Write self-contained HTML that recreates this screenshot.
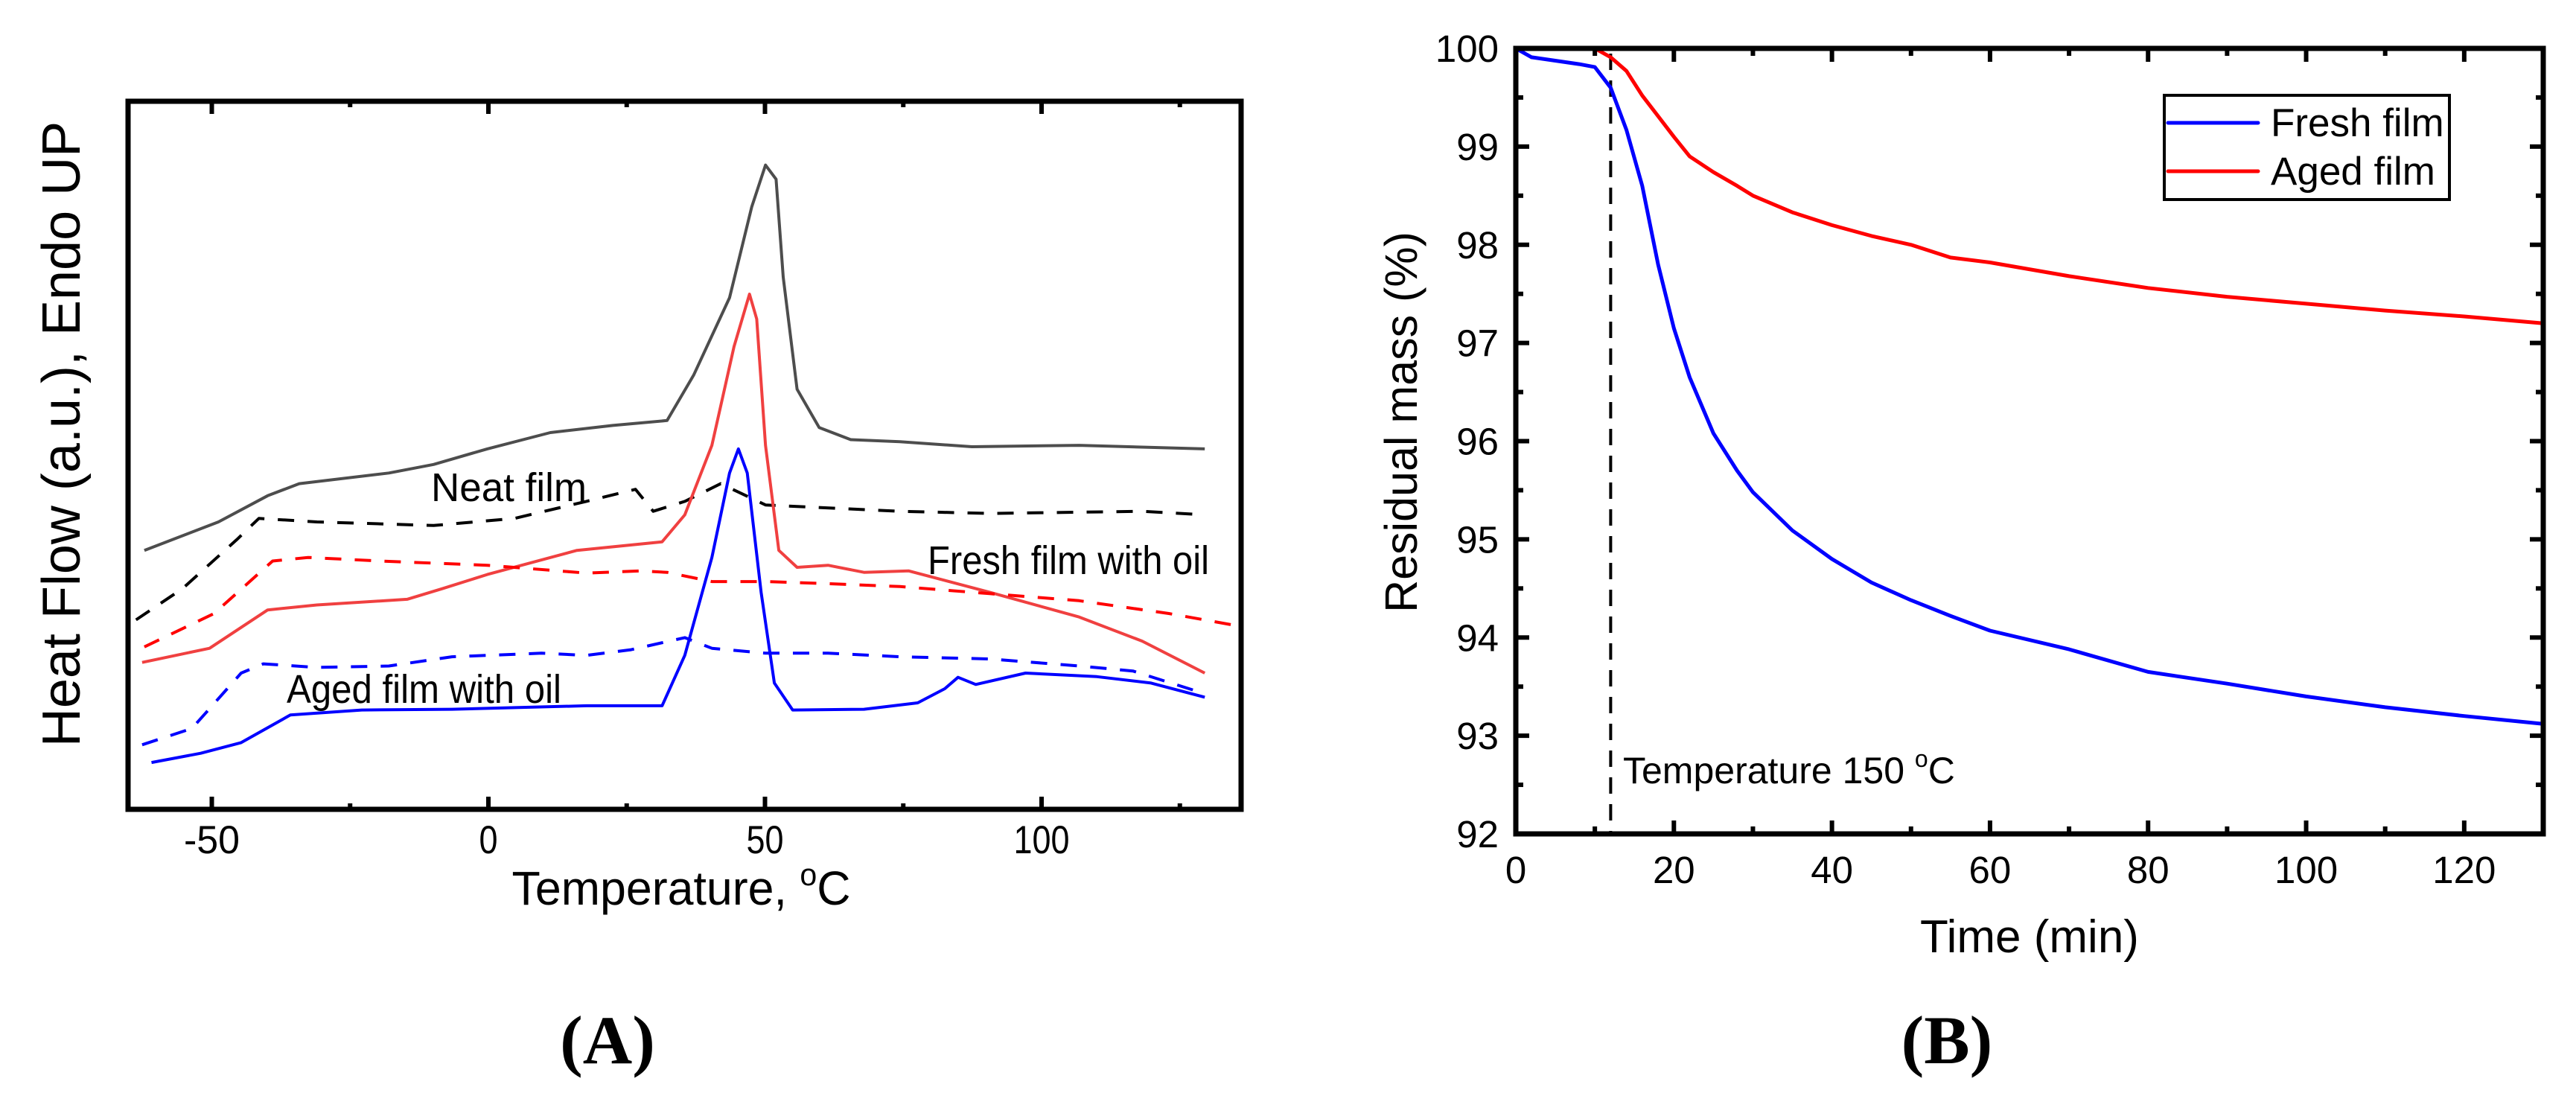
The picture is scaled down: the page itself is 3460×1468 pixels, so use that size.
<!DOCTYPE html>
<html><head><meta charset="utf-8"><style>html,body{margin:0;padding:0;background:#fff}svg{display:block}text{font-family:"Liberation Sans",Arial,sans-serif}</style></head>
<body>
<svg id="fig" width="3460" height="1468" viewBox="0 0 3460 1468" xmlns="http://www.w3.org/2000/svg">
<g id="panelA"></g>
<g id="panelB"></g>
<text x="816" y="1428" text-anchor="middle" style="font-family:'Liberation Serif',serif" font-size="92" font-weight="bold">(A)</text>
<text x="2615" y="1428" text-anchor="middle" style="font-family:'Liberation Serif',serif" font-size="92" font-weight="bold">(B)</text>
</svg>
<script>
// ---------- Panel A data ----------
const aXTicks = [-50, 0, 50, 100];
const aXTickLabels = ["-50", "0", "50", "100"];
const neatSolidT = [-62.2,-48.8,-39.9,-34.2,-18,-9.9,-0.2,11.2,22.5,32.3,37.1,43.6,47.6,50.1,52,53.3,55.8,59.8,65.5,74.4,87.4,106.8,129.5];
const neatSolidV = [36.5,40.5,44.2,45.9,47.4,48.6,50.8,53.1,54.1,54.8,61.2,72.1,84.9,90.8,88.8,75,59.2,53.8,52.1,51.8,51.1,51.3,50.8];
const neatDashT = [-63.7,-55.3,-45.5,-41.5,-31,-9.9,4.7,17.7,26.6,29.8,35.5,42,50.1,66.3,74.4,90.6,118.2,129.5];
const neatDashV = [26.7,31.1,38,41,40.5,40,41,43.4,45.1,42,43.4,45.9,42.9,42.3,42,41.7,42,41.5];
const freshSolidT = [-62.6,-50.4,-39.9,-31,-14.7,-8.3,-0.2,16,31.4,35.5,40.4,44.4,47.2,48.5,50.1,52.5,55.8,61.4,67.9,76,90.6,106.8,118.2,129.5];
const freshSolidV = [20.7,22.7,28.1,28.8,29.6,31.1,33.1,36.5,37.7,41.5,51.3,65.2,72.6,69.1,51.3,36.5,34.1,34.4,33.4,33.6,30.6,27.1,23.7,19.2];
const freshDashT = [-62.2,-49.6,-39,-32.6,-19.6,-0.2,17.7,27.4,32.3,40.4,50.1,61.4,74.4,90.6,106.8,123,135.2];
const freshDashV = [22.9,27.6,35,35.5,35,34.4,33.3,33.6,33.4,32.1,32.1,31.8,31.4,30.4,29.4,27.6,25.9];
const agedSolidT = [-60.9,-52,-44.7,-35.8,-22.9,-6.6,17.7,31.4,35.5,40.4,43.6,45.2,46.8,49.3,51.7,55,67.9,77.6,82.5,84.9,88.1,97.1,110,119.8,129.5];
const agedSolidV = [6.6,7.9,9.4,13.3,14,14.1,14.6,14.6,21.7,35.5,47.4,50.8,47.4,30.6,17.8,14,14.1,15,17,18.6,17.6,19.2,18.7,17.8,15.8];
const agedDashT = [-62.6,-53.6,-44.7,-40.7,-31,-18,-6.6,9.6,17.7,25.8,35.5,40.4,50.1,61.4,74.4,90.6,106.8,116.5,129.5];
const agedDashV = [9.1,11.4,19.2,20.5,20,20.2,21.5,22,21.7,22.5,24.2,22.7,22,22,21.5,21.2,20.2,19.5,16.3];

// ---------- Panel B data ----------
const bXTicks = [0,20,40,60,80,100,120];
const bXTickLabels = ["0","20","40","60","80","100","120"];
const bYTicks = [92,93,94,95,96,97,98,99,100];
const bYTickLabels = ["92","93","94","95","96","97","98","99","100"];
const freshTime = [0,2,8,10,12,14,16,18,20,22,25,28,30,35,40,45,50,55,60,70,80,90,100,110,120,130];
const freshMass = [100,99.91,99.84,99.81,99.6,99.17,98.6,97.8,97.15,96.65,96.08,95.7,95.48,95.09,94.8,94.56,94.38,94.22,94.07,93.88,93.65,93.53,93.4,93.29,93.2,93.12];
const agedTime = [0,5,10,12,14,16,18,20,22,25,28,30,35,40,45,50,55,60,70,80,90,100,110,120,130];
const agedMass = [100,100,100,99.91,99.77,99.52,99.31,99.1,98.9,98.74,98.6,98.5,98.33,98.2,98.09,98.0,97.87,97.82,97.68,97.56,97.47,97.4,97.33,97.27,97.2];
const isoTime = 12;

const NS = "http://www.w3.org/2000/svg";
function mk(parent, tag, attrs, txt){const e=document.createElementNS(NS,tag);for(const k in attrs)e.setAttribute(k,attrs[k]);if(txt!==undefined)e.textContent=txt;parent.appendChild(e);return e;}

// ---------- Panel A ----------
const A = document.getElementById('panelA');
const aL=172,aR=1667,aT=136,aB=1087;
const axA = t => 656 + t*7.43;
const ayA = v => aB - v*9.53;
function seriesA(T,V,color,dash,name){
  const p=mk(A,'polyline',{points:T.map((t,i)=>axA(t).toFixed(1)+','+ayA(V[i]).toFixed(1)).join(' '),fill:'none',stroke:color,'stroke-width':4,'stroke-linejoin':'round','stroke-dasharray':dash||'none'});
  
  
}
seriesA(neatSolidT,neatSolidV,'#4d4d4d',null,'neat-film-solid-line');
seriesA(neatDashT,neatDashV,'#000','22,18','neat-film-dashed-line');
seriesA(freshSolidT,freshSolidV,'#f04040',null,'fresh-film-solid-line');
seriesA(freshDashT,freshDashV,'#ff0000','22,18','fresh-film-dashed-line');
seriesA(agedSolidT,agedSolidV,'#0000ff',null,'aged-film-solid-line');
seriesA(agedDashT,agedDashV,'#0000ff','22,18','aged-film-dashed-line');
const frA=mk(A,'rect',{x:aL,y:aT,width:aR-aL,height:aB-aT,fill:'none',stroke:'#000','stroke-width':7});


for(let t=-50;t<=125;t+=25){
  const len = (t%50===0)?17:8; const x=axA(t);
  const t1=mk(A,'line',{x1:x,y1:aT,x2:x,y2:aT+len,stroke:'#000','stroke-width':6});
  
  
  const t2=mk(A,'line',{x1:x,y1:aB,x2:x,y2:aB-len,stroke:'#000','stroke-width':6});
  
  
}
aXTicks.forEach((t,i)=>{
  const lab=aXTickLabels[i];
  const e=mk(A,'text',{x:axA(t),y:1146,'text-anchor':'middle','font-size':53,textLength:lab.length*25,lengthAdjust:'spacingAndGlyphs'},lab);
  
  
});
const xtA=mk(A,'text',{x:915,y:1215,'text-anchor':'middle','font-size':64,textLength:455,lengthAdjust:'spacingAndGlyphs'});


xtA.innerHTML='Temperature, <tspan font-size="42" dy="-26">o</tspan><tspan dy="26">C</tspan>';
const ytA=mk(A,'text',{x:0,y:0,'text-anchor':'middle','font-size':72,transform:'translate(107,583) rotate(-90)'},'Heat Flow (a.u.), Endo UP');


const lbls=[['Neat film',579,673,209,'neat-film-label'],['Fresh film with oil',1246,771,378,'fresh-film-label'],['Aged film with oil',385,944,369,'aged-film-label']];
lbls.forEach(l=>{
  const e=mk(A,'text',{x:l[1],y:l[2],'font-size':54,textLength:l[3],lengthAdjust:'spacingAndGlyphs'},l[0]);
  
  
});

// ---------- Panel B ----------
const B = document.getElementById('panelB');
const bL=2036,bR=3416,bT=65,bBt=1120;
const axB = t => bL + t*(bR-bL)/130;
const ayB = v => bBt - (v-92)*(bBt-bT)/8;
function seriesB(T,V,color,name){
  const p=mk(B,'polyline',{points:T.map((t,i)=>axB(t).toFixed(1)+','+ayB(V[i]).toFixed(1)).join(' '),fill:'none',stroke:color,'stroke-width':5,'stroke-linejoin':'round'});
  
  
}
const vl=mk(B,'line',{x1:axB(isoTime),y1:72,x2:axB(isoTime),y2:bBt,stroke:'#000','stroke-width':4,'stroke-dasharray':'22,14'});


seriesB(agedTime,agedMass,'#ff0000','aged-film-line');
seriesB(freshTime,freshMass,'#0000ff','fresh-film-line');
const frB=mk(B,'rect',{x:bL,y:bT,width:bR-bL,height:bBt-bT,fill:'none',stroke:'#000','stroke-width':7});


for(let t=0;t<=130;t+=10){
  const len=(t%20===0)?18:10; const x=axB(t);
  const a=mk(B,'line',{x1:x,y1:bBt,x2:x,y2:bBt-len,stroke:'#000','stroke-width':6});
  
  
  const b=mk(B,'line',{x1:x,y1:bT,x2:x,y2:bT+len,stroke:'#000','stroke-width':6});
  
  
}
for(let v=92;v<=100;v+=0.5){
  const len=(v%1===0)?18:10; const y=ayB(v);
  const a=mk(B,'line',{x1:bL,y1:y,x2:bL+len,y2:y,stroke:'#000','stroke-width':6});
  
  
  const b=mk(B,'line',{x1:bR,y1:y,x2:bR-len,y2:y,stroke:'#000','stroke-width':6});
  
  
}
bXTicks.forEach((t,i)=>{
  const e=mk(B,'text',{x:axB(t),y:1186,'text-anchor':'middle','font-size':51},bXTickLabels[i]);
  
  
});
bYTicks.forEach((v,i)=>{
  const e=mk(B,'text',{x:2013,y:ayB(v)+18,'text-anchor':'end','font-size':51},bYTickLabels[i]);
  
  
});
const xtB=mk(B,'text',{x:2726,y:1279,'text-anchor':'middle','font-size':62},'Time (min)');


const ytB=mk(B,'text',{x:0,y:0,'text-anchor':'middle','font-size':61,transform:'translate(1903,567) rotate(-90)'},'Residual mass (%)');


const ann=mk(B,'text',{x:2180,y:1052,'font-size':50});


ann.innerHTML='Temperature 150 <tspan font-size="32" dy="-22">o</tspan><tspan dy="22">C</tspan>';
// legend
const lg=mk(B,'g',{});


const lb=mk(lg,'rect',{x:2907,y:128,width:383,height:140,fill:'#fff',stroke:'#000','stroke-width':4});


[['Fresh film','#0000ff',165,183,'legend-entry-fresh'],['Aged film','#ff0000',230,248,'legend-entry-aged']].forEach(r=>{
  const g=mk(lg,'g',{});
  
  
  mk(g,'line',{x1:2912,y1:r[2],x2:3033,y2:r[2],stroke:r[1],'stroke-width':5,'stroke-linecap':'round'});
  mk(g,'text',{x:3050,y:r[3],'font-size':53},r[0]);
});
</script>
</body></html>
